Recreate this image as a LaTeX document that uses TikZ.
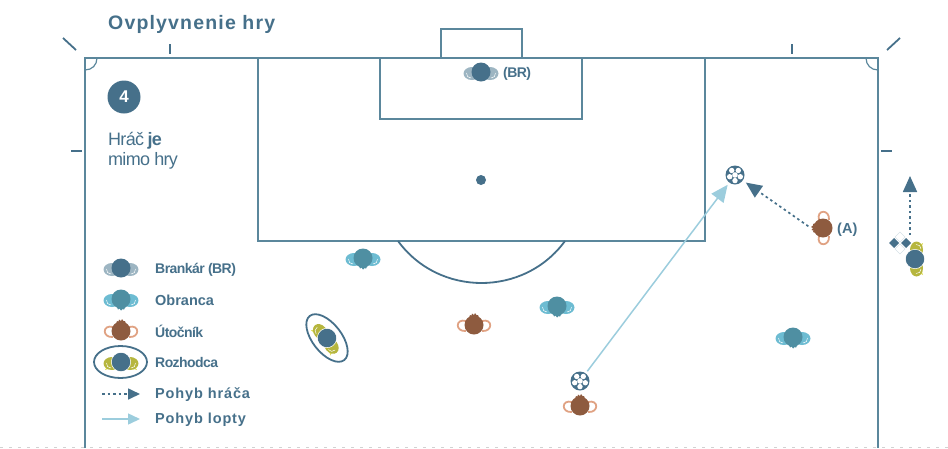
\documentclass[tikz,border=0pt]{standalone}
\usepackage{fontspec}
\setmainfont{Liberation Sans}
\newfontfamily\widefont[LetterSpace=6]{Liberation Sans}
\newfontfamily\tightfont[LetterSpace=-4]{Liberation Sans}
\usetikzlibrary{arrows.meta}
\definecolor{linecol}{HTML}{5B879C}
\definecolor{darkcol}{HTML}{46708A}
\definecolor{atkcol}{HTML}{8E5B3F}
\definecolor{atkarm}{HTML}{E0A283}
\definecolor{defcol}{HTML}{4F8FA2}
\definecolor{defarm}{HTML}{6DBCD2}
\definecolor{gkarm}{HTML}{9DB5C2}
\definecolor{refarm}{HTML}{B6B63E}
\definecolor{refend}{HTML}{DDDD55}
\definecolor{ballcol}{HTML}{9CCDDD}
\newcommand{\playerarms}[2]{
  \fill[#1] (-9,1.5) ellipse (8.5 and 6.5);
  \fill[#1] (9,1.5) ellipse (8.5 and 6.5);
  \draw[white,line width=.5pt] (-14.5,1) .. controls (-14.5,4) and (-13,6) .. (-10,6);
  \draw[white,line width=.5pt] (14.5,1) .. controls (14.5,4) and (13,6) .. (10,6);
  \fill[#2] (0,0) circle (9.5);
}
\tikzset{
  pitch/.style={draw=linecol,line width=1.8pt},
  label/.style={text=darkcol,font=\bfseries\fontsize{14.5}{16}\selectfont,anchor=west,inner sep=0pt},
  thinlabel/.style={label,font=\tightfont\bfseries\fontsize{14}{16}\selectfont},
  widelabel/.style={label,font=\widefont\bfseries\fontsize{14.5}{16}\selectfont},
  playerspot/.style={circle,minimum size=24pt,inner sep=0pt},
  ballspot/.style={circle,minimum size=24pt,inner sep=0pt},
  runmove/.style={darkcol,line width=1.7pt,dash pattern=on 2.5pt off 3pt,
    -{Triangle[length=16pt,width=14pt]}},
  ballmove/.style={ballcol,line width=1.5pt,-{Triangle[length=17pt,width=15pt]}},
  legendtip/.style={-{Triangle[length=12pt,width=11pt]}},
  pics/keeper/.style={code={\playerarms{gkarm}{darkcol}}},
  pics/defender/.style={code={
    \playerarms{defarm}{defcol}
    \fill[defcol] (-4,8) -- (-3,10.5) -- (-1.5,9.5) -- (0,11.5) -- (1.5,10) -- (3,10.5) -- (5,7) -- cycle;
  }},
  pics/attacker/.style={code={
    \draw[atkarm,line width=1.8pt] (-8,-4) .. controls (-19,-7) and (-19,7) .. (-8,6);
    \draw[atkarm,line width=1.8pt] (8,-4) .. controls (19,-7) and (19,7) .. (8,6);
    \fill[atkcol] (0,0) circle (9.5);
    \fill[atkcol] (-5,-7) -- (-4,-10) -- (-2.5,-9.5) -- (-2,-11.5) -- (0,-10) -- (1,-12) -- (2.5,-10) -- (4,-10) -- (5,-7) -- cycle;
  }},
  pics/referee/.style={code={
    \fill[refend] (-13,3) -- (-16,8) -- (-10,6) -- cycle;
    \fill[refend] (13,3) -- (16,8) -- (10,6) -- cycle;
    \playerarms{refarm}{darkcol}
    \draw[white,line width=.5pt] (0,0) circle (9.7);
  }},
  pics/ball/.style={code={
    \fill[darkcol] (0,0) circle (9.5);
    \fill[white] (0,0) circle (2.8);
    \foreach \a in {90,162,234,306,18}
      \fill[white] (\a:5.6) circle (2.7);
  }}
}
\begin{document}
\begin{tikzpicture}[x=1pt,y=-1pt]
\useasboundingbox (0,0) rectangle (948,448);

\draw[gray!35,line width=.8pt,dash pattern=on 3pt off 6pt] (0,447) -- (948,447);

\draw[pitch] (85,448) -- (85,58) -- (878,58) -- (878,448);
\draw[pitch] (258,58) rectangle (705,241);
\draw[pitch] (380,58) rectangle (582,119);
\draw[pitch] (441,58) rectangle (522,29);
\draw[pitch,darkcol] (398,241) .. controls (439,297) and (524,297) .. (565,241);
\draw[pitch,line width=1.2pt] (85,70) .. controls (92,70) and (97,65) .. (97,58);
\draw[pitch,line width=1.2pt] (878,70) .. controls (871,70) and (866,65) .. (866,58);
\fill[darkcol] (481,180) circle (5);

\draw[pitch,darkcol] (170,44) -- (170,54);
\draw[pitch,darkcol] (792,44) -- (792,54);
\draw[pitch,darkcol] (71,151) -- (82,151);
\draw[pitch,darkcol] (881,151) -- (892,151);
\draw[pitch,darkcol] (63,38) -- (76,50);
\draw[pitch,darkcol] (900,38) -- (887,50);

\node[text=darkcol,font=\widefont\bfseries\fontsize{19.5}{22}\selectfont,anchor=west,inner sep=0pt] (title) at (108,24) {Ovplyvnenie hry};
\node[circle,fill=darkcol,minimum size=33pt,inner sep=0pt,text=white,font=\bfseries\fontsize{17}{20}\selectfont] (num) at (124,97) {4};
\node[text=darkcol,font=\tightfont\fontsize{18}{20}\selectfont,anchor=north west,inner sep=0pt,align=left] (note) at (108,132) {Hráč \textbf{je}\\mimo hry};

\pic at (481,72) {keeper};
\node[thinlabel,font=\tightfont\fontsize{14}{16}\selectfont\bfseries] (brLabel) at (503,74) {(BR)};

\pic at (363,258) {defender};
\pic at (557,306) {defender};
\pic at (793,337) {defender};
\pic at (474,325) {attacker};
\pic at (580,406) {attacker};

\coordinate (atkA) at (823,228);
\node[playerspot] (atkSpot) at (atkA) {};
\pic[rotate=90] at (atkA) {attacker};
\node[label] (atkLabel) at (837,230) {(A)};

\node[ballspot] (ballStart) at (580,381) {};
\node[ballspot] (ballEnd) at (735,175) {};
\pic at (ballStart) {ball};
\pic at (ballEnd) {ball};
\draw[ballmove] (ballStart) -- (ballEnd);
\draw[runmove,shorten >=1pt,shorten <=3pt] (atkSpot.west) -- (ballEnd);

\pic[rotate=-52] at (327,338) {referee};
\draw[darkcol,line width=1.8pt,rotate around={-52:(327,338)}] (327,338) ellipse (28 and 14.5);

\pic[rotate=90] at (915,259) {referee};
\fill[darkcol] (889,243) -- (894,238) -- (899,243) -- (894,248) -- cycle;
\fill[darkcol] (901,243) -- (906,238) -- (911,243) -- (906,248) -- cycle;
\draw[linecol!25,line width=.6pt] (895,237) -- (900,232) -- (905,237) -- (900,242) -- cycle;
\draw[linecol!25,line width=.6pt] (895,249) -- (900,244) -- (905,249) -- (900,254) -- cycle;
\coordinate (runStart) at (910,235);
\coordinate (runEnd) at (910,176);
\draw[runmove] (runStart) -- (runEnd);

\pic at (121,268) {keeper};
\pic at (121,299) {defender};
\pic at (121,331) {attacker};
\pic at (121,362) {referee};
\draw[darkcol,line width=1.8pt] (120.5,362) ellipse (26.5 and 16);
\node[thinlabel] (legKeeper) at (155,270) {Brankár (BR)};
\node[label] (legDefender) at (155,300) {Obranca};
\node[thinlabel] (legAttacker) at (155,331) {Útočník};
\node[thinlabel] (legReferee) at (155,362) {Rozhodca};
\node[widelabel] (legRun) at (155,395) {Pohyb hráča};
\node[widelabel] (legBall) at (155,420) {Pohyb lopty};

\coordinate (runA) at (102,394);
\coordinate (runB) at (140,394);
\coordinate (ballA) at (102,419);
\coordinate (ballB) at (140,419);
\draw[runmove,legendtip] (runA) -- (runB);
\draw[ballmove,legendtip] (ballA) -- (ballB);
\end{tikzpicture}
\end{document}
